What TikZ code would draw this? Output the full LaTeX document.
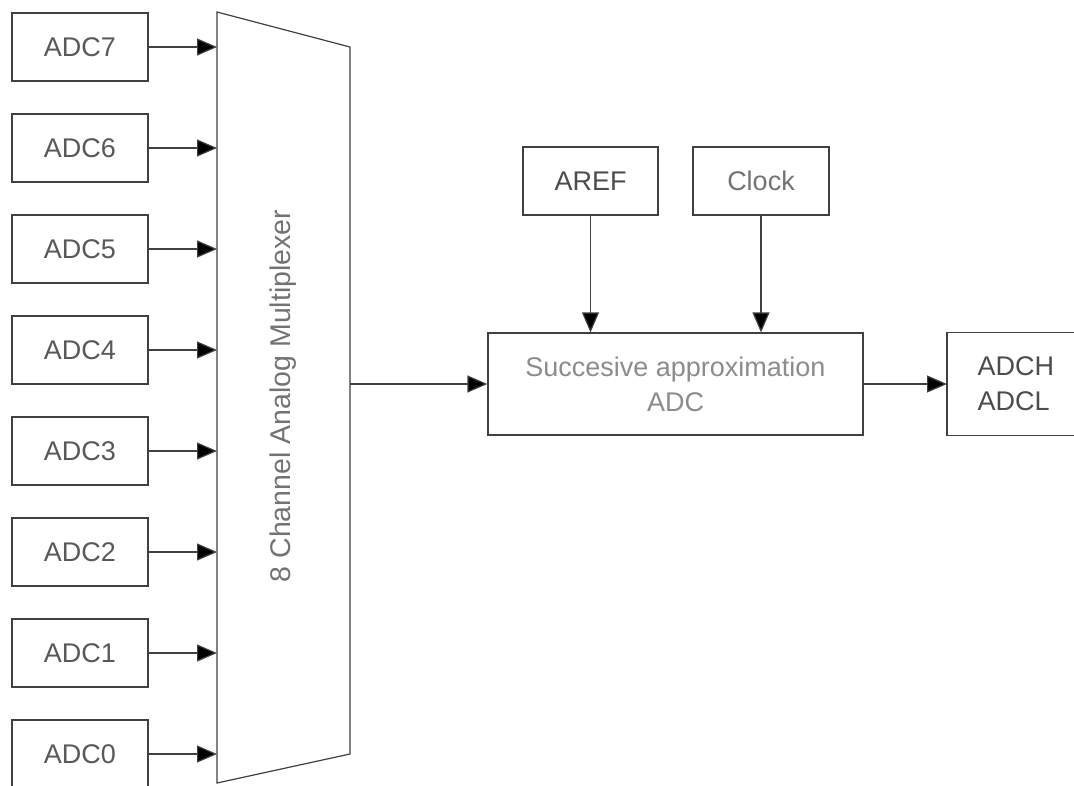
\documentclass[tikz,border=0pt]{standalone}
\usepackage{fontspec}
\setmainfont{Liberation Sans}
\usetikzlibrary{arrows.meta}
\begin{document}
\begin{tikzpicture}[x=1pt,y=-1pt,
  line width=1.2pt, draw=black!75,
  every node/.style={font=\fontsize{27}{35}\selectfont, inner sep=0pt},
  box/.style={draw=black!75, line width=1.2pt, minimum width=136pt, minimum height=68pt, text=black!65},
  conn/.style={draw=black!75, line width=1.2pt, -{Triangle[length=20pt,width=17pt,fill=black]}}
]
\useasboundingbox (0,0) rectangle (1074,785);
\clip (0,0) rectangle (1074,785);
\fill[white] (0,0) rectangle (1074,785);

% multiplexer
\coordinate (mtl) at (217,12);
\coordinate (mtr) at (350,47);
\coordinate (mbr) at (350,754);
\coordinate (mbl) at (217,783);
\draw (mtl) -- (mtr) -- (mbr) -- (mbl) -- cycle;
\node[rotate=90, text=black!55, font=\fontsize{28.5}{35}\selectfont] (muxlabel) at (283,396) {8 Channel Analog Multiplexer};

% input boxes
\foreach \i in {7,6,5,4,3,2,1,0}{
  \pgfmathsetmacro{\yy}{47+101*(7-\i)}
  \node[box] (adc\i) at (80,\yy) {ADC\i};
  \coordinate (m\i) at (217,\yy);
  \draw[conn] (adc\i.east) -- (m\i);
}

% ADC block
\node[box, minimum width=375pt, minimum height=102pt, align=center, text=black!45] (sa) at (675.5,384) {Succesive approximation\\ADC};
\node[box, minimum width=135pt, text=black!70] (aref) at (590.5,181) {AREF};
\node[box, text=black!55] (clock) at (761,181) {Clock};
\node[box, draw=none, anchor=west, minimum height=102pt, text width=200pt, inner xsep=30pt, align=left, text=black!70] (out) at (947,384) {ADCH\\ADCL};
\draw (out.north east) -- (out.north west) -- (out.south west) -- (out.south east);

\coordinate (mout) at (350,384);
\draw[conn] (mout) -- (sa.west);
\draw[conn] (aref.south) -- (aref.south |- sa.north);
\draw[conn] (clock.south) -- (clock.south |- sa.north);
\draw[conn] (sa.east) -- (out.west);
\end{tikzpicture}
\end{document}
